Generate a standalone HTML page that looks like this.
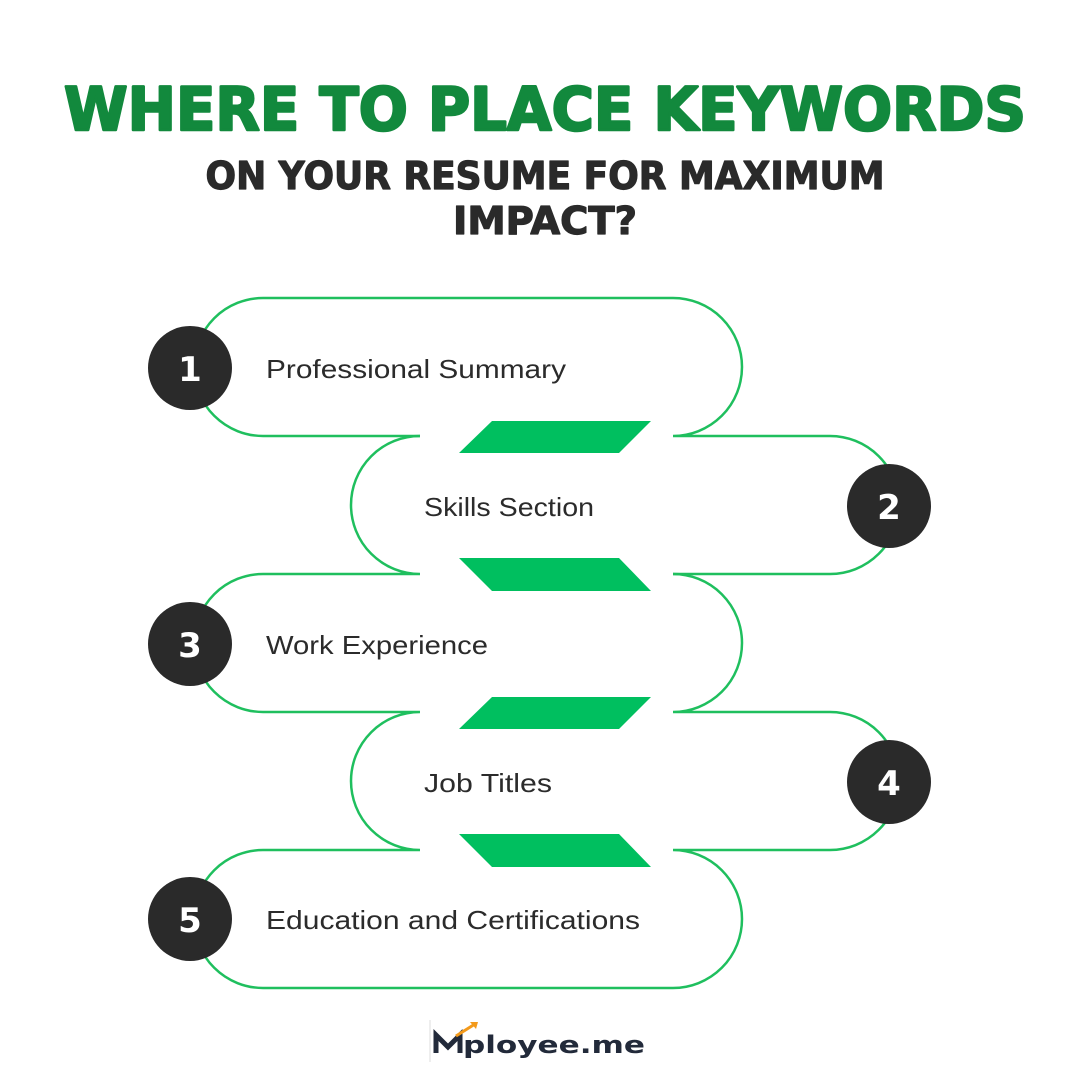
<!DOCTYPE html>
<html><head><meta charset="utf-8"><style>
html,body{margin:0;padding:0;background:#fff;}
svg{display:block}
</style></head><body>
<svg width="1080" height="1080" viewBox="0 0 1080 1080" xmlns="http://www.w3.org/2000/svg">
<rect width="1080" height="1080" fill="#fff"/>
<text x="545" y="130" text-anchor="middle" font-family="DejaVu Sans, Liberation Sans, sans-serif" font-weight="bold" font-size="60" fill="#12893d" stroke="#12893d" stroke-width="2.5" stroke-linejoin="round" textLength="962" lengthAdjust="spacingAndGlyphs">WHERE TO PLACE KEYWORDS</text>
<text x="545" y="189" text-anchor="middle" font-family="DejaVu Sans, Liberation Sans, sans-serif" font-weight="bold" font-size="38" fill="#2a2a2a" stroke="#2a2a2a" stroke-width="1.2" stroke-linejoin="round" textLength="679" lengthAdjust="spacingAndGlyphs">ON YOUR RESUME FOR MAXIMUM</text>
<text x="545" y="234" text-anchor="middle" font-family="DejaVu Sans, Liberation Sans, sans-serif" font-weight="bold" font-size="38" fill="#2a2a2a" stroke="#2a2a2a" stroke-width="1.2" stroke-linejoin="round" textLength="184" lengthAdjust="spacingAndGlyphs">IMPACT?</text>

<g fill="none" stroke="#1fbf5e" stroke-width="2.5">
<path d="M420 436 H263 A69 69 0 0 1 263 298 H673 A69 69 0 0 1 673 436 H830 A69 69 0 0 1 830 574 H673"/>
<path d="M420 436 A69 69 0 0 0 420 574 H263 A69 69 0 0 0 263 712 H420 A69 69 0 0 0 420 850 H263 A69 69 0 0 0 263 988 H673 A69 69 0 0 0 673 850 H830 A69 69 0 0 0 830 712 H673 A69 69 0 0 0 673 574"/>
</g>
<g fill="#00bf5f">
<polygon points="492,421 651,421 619,453 459,453"/>
<polygon points="459,558 619,558 651,591 492,591"/>
<polygon points="492,697 651,697 619,729 459,729"/>
<polygon points="459,834 619,834 651,867 492,867"/>
</g>
<g fill="#2a2a2a">
<circle cx="190" cy="368" r="42"/>
<circle cx="889" cy="506" r="42"/>
<circle cx="190" cy="644" r="42"/>
<circle cx="889" cy="782" r="42"/>
<circle cx="190" cy="919" r="42"/>
</g>
<g fill="#fff" font-family="DejaVu Sans, Liberation Sans, sans-serif" font-weight="bold" font-size="34" text-anchor="middle">
<text x="190" y="381">1</text>
<text x="889" y="519">2</text>
<text x="190" y="657">3</text>
<text x="889" y="795">4</text>
<text x="190" y="932">5</text>
</g>
<g fill="#2b2b2b" font-family="Liberation Sans, sans-serif" font-size="26">
<text x="266" y="378" textLength="300" lengthAdjust="spacingAndGlyphs">Professional Summary</text>
<text x="424" y="516" textLength="170" lengthAdjust="spacingAndGlyphs">Skills Section</text>
<text x="266" y="654" textLength="222" lengthAdjust="spacingAndGlyphs">Work Experience</text>
<text x="424" y="792" textLength="128" lengthAdjust="spacingAndGlyphs">Job Titles</text>
<text x="266" y="929" textLength="374" lengthAdjust="spacingAndGlyphs">Education and Certifications</text>
</g>
<line x1="430" y1="1020" x2="430" y2="1062" stroke="#ddd" stroke-width="1"/>
<path d="M436 1053 V1035 L448 1047 L460 1035 V1053" fill="none" stroke="#222a3a" stroke-width="5"/>
<path d="M456 1036 L475 1024" stroke="#f39a1b" stroke-width="3"/>
<polygon points="478,1022 470,1022 476,1029" fill="#f39a1b"/>
<text x="463" y="1053" font-family="DejaVu Sans, Liberation Sans, sans-serif" font-weight="bold" font-size="24" fill="#222a3a" textLength="182" lengthAdjust="spacingAndGlyphs">ployee.me</text>
</svg>
</body></html>
